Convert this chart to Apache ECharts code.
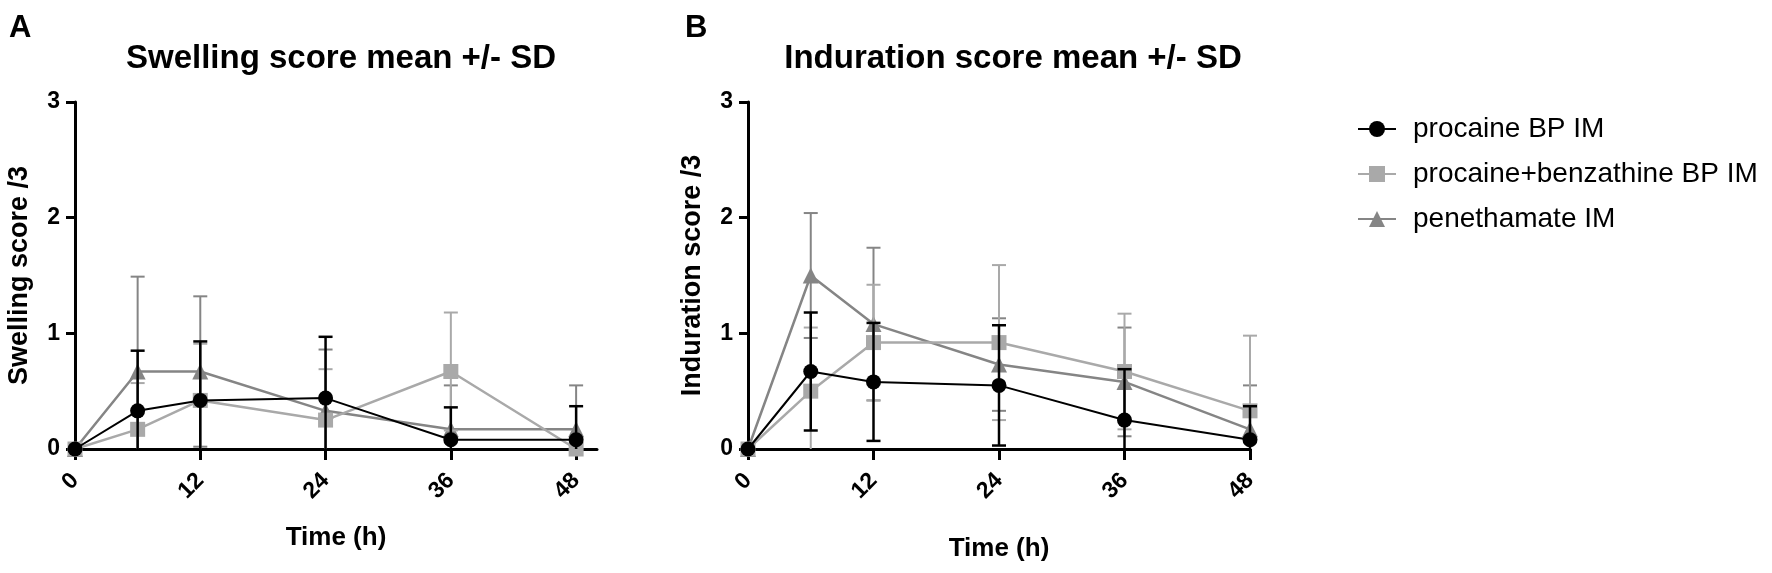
<!DOCTYPE html>
<html>
<head>
<meta charset="utf-8">
<script src="https://cdn.jsdelivr.net/npm/echarts@6/dist/echarts.min.js"></script>
<style>
  html, body { margin: 0; padding: 0; background: #fff; }
  #chart { width: 1772px; height: 573px; }
</style>
</head>
<body>
<div id="chart"></div>
<script>
// time points (h)
const hours = [0, 6, 12, 24, 36, 48];
const xTicks = [0, 12, 24, 36, 48];
const yTicks = [0, 1, 2, 3];
const groupNames = ['procaine BP IM', 'procaine+benzathine BP IM', 'penethamate IM'];

// A: swelling score, mean and SD
const swellProcMean = [0, 0.33, 0.42, 0.44, 0.08, 0.08];
const swellProcSd   = [0, 0.52, 0.51, 0.53, 0.28, 0.29];
const swellBenzMean = [0, 0.17, 0.42, 0.25, 0.67, 0];
const swellBenzSd   = [0, 0.40, 0.49, 0.44, 0.51, 0];
const swellPeneMean = [0, 0.67, 0.67, 0.33, 0.17, 0.17];
const swellPeneSd   = [0, 0.82, 0.65, 0.53, 0.38, 0.38];

// B: induration score, mean and SD
const indProcMean = [0, 0.67, 0.58, 0.55, 0.25, 0.08];
const indProcSd   = [0, 0.51, 0.51, 0.52, 0.44, 0.29];
const indBenzMean = [0, 0.50, 0.92, 0.92, 0.67, 0.33];
const indBenzSd   = [0, 0.55, 0.50, 0.67, 0.50, 0.65];
const indPeneMean = [0, 1.50, 1.08, 0.73, 0.58, 0.17];
const indPeneSd   = [0, 0.54, 0.66, 0.40, 0.47, 0.38];

const FONT = 'Liberation Sans, Arial, sans-serif';
const colors = ['#000000', '#a9a9a9', '#858585'];
const symbols = ['circle', 'rect', 'triangle'];
const symbolSizes = [15, 15, 16];

let myChart = echarts.init(document.getElementById('chart'));

function pairs(means) {
    return hours.map((h, i) => [h, means[i]]);
}

function triples(means, sds) {
    return hours.map((h, i) => [h, means[i], sds[i]]);
}

// vertical error bar with caps, cut off at the x axis like the original
function errorBar(color, width) {
    return function(params, api) {
        let sd = api.value(2);
        if (!sd) return null;
        let x = api.value(0);
        let mean = api.value(1);
        let hi = mean + sd;
        let lo = mean - sd;
        let top = api.coord([x, hi]);
        let bot = api.coord([x, Math.max(lo, 0)]);
        let cap = 7;
        let style = { stroke: color, lineWidth: width };
        let kids = [
            { type: 'line', shape: { x1: top[0], y1: top[1], x2: bot[0], y2: bot[1] }, style: style },
            { type: 'line', shape: { x1: top[0] - cap, y1: top[1], x2: top[0] + cap, y2: top[1] }, style: style }
        ];
        if (lo >= 0) {
            kids.push({ type: 'line', shape: { x1: bot[0] - cap, y1: bot[1], x2: bot[0] + cap, y2: bot[1] }, style: style });
        }
        return { type: 'group', children: kids };
    };
}

function panelSeries(gridIdx, means, sds) {
    let out = [];
    // penethamate first, procaine BP last (on top)
    for (let k = 2; k >= 0; k--) {
        out.push({
            type: 'custom',
            xAxisIndex: gridIdx,
            yAxisIndex: gridIdx,
            renderItem: errorBar(colors[k], k === 0 ? 2.5 : 2),
            data: triples(means[k], sds[k]),
            encode: { x: 0, y: 1 },
            z: 2 + (2 - k) * 2,
            silent: true,
            clip: false
        });
        out.push({
            name: groupNames[k],
            type: 'line',
            xAxisIndex: gridIdx,
            yAxisIndex: gridIdx,
            data: pairs(means[k]),
            symbol: symbols[k],
            symbolSize: symbolSizes[k],
            showAllSymbol: true,
            lineStyle: { color: colors[k], width: k === 0 ? 2 : 2.5 },
            itemStyle: { color: colors[k], opacity: 1 },
            z: 3 + (2 - k) * 2,
            animation: false
        });
    }
    return out;
}

function xAxisFor(gridIdx, maxVal, gap) {
    return {
        type: 'value',
        gridIndex: gridIdx,
        min: 0,
        max: maxVal,
        interval: 12,
        name: 'Time (h)',
        nameLocation: 'middle',
        nameGap: gap,
        nameTextStyle: { fontFamily: FONT, fontWeight: 'bold', fontSize: 26, color: '#000' },
        axisLine: { show: true, onZero: false, lineStyle: { color: '#000', width: 3 } },
        axisTick: { show: true, length: 11, customValues: xTicks, lineStyle: { color: '#000', width: 3 } },
        axisLabel: {
            rotate: 45, fontFamily: FONT, fontWeight: 'bold', fontSize: 23, color: '#000', margin: 28,
            customValues: xTicks
        },
        splitLine: { show: false }
    };
}

function yAxisFor(gridIdx, label) {
    return {
        type: 'value',
        gridIndex: gridIdx,
        min: 0,
        max: 3,
        interval: 1,
        name: label,
        nameLocation: 'middle',
        nameGap: 42,
        nameTextStyle: { fontFamily: FONT, fontWeight: 'bold', fontSize: 27, color: '#000' },
        axisLine: { show: true, lineStyle: { color: '#000', width: 3 } },
        axisTick: { show: true, length: 9, customValues: yTicks, lineStyle: { color: '#000', width: 3 } },
        axisLabel: {
            fontFamily: FONT, fontWeight: 'bold', fontSize: 23, color: '#000', margin: 15,
            customValues: yTicks
        },
        splitLine: { show: false }
    };
}

let option = {
    backgroundColor: '#fff',
    animation: false,
    title: [
        { text: 'A', left: 4, top: 8, textStyle: { fontFamily: FONT, fontWeight: 'bold', fontSize: 31, color: '#000' } },
        { text: 'B', left: 680, top: 8, textStyle: { fontFamily: FONT, fontWeight: 'bold', fontSize: 31, color: '#000' } },
        { text: 'Swelling score mean +/- SD', left: 336, top: 37, textAlign: 'center',
          textStyle: { fontFamily: FONT, fontWeight: 'bold', fontSize: 33, color: '#000' } },
        { text: 'Induration score mean +/- SD', left: 1008, top: 37, textAlign: 'center',
          textStyle: { fontFamily: FONT, fontWeight: 'bold', fontSize: 33, color: '#000' } }
    ],
    legend: {
        data: groupNames,
        orient: 'vertical',
        left: 1352,
        top: 110,
        itemWidth: 38,
        itemHeight: 20,
        itemGap: 17,
        textStyle: { fontFamily: FONT, fontSize: 28, color: '#000', padding: [0, 0, 0, 12] }
    },
    grid: [
        { left: 75, top: 102, width: 522, height: 347 },
        { left: 748, top: 102, width: 502, height: 347 }
    ],
    xAxis: [xAxisFor(0, 50, 76), xAxisFor(1, 48, 87)],
    yAxis: [yAxisFor(0, 'Swelling score /3'), yAxisFor(1, 'Induration score /3')],
    series: [].concat(
        panelSeries(0, [swellProcMean, swellBenzMean, swellPeneMean], [swellProcSd, swellBenzSd, swellPeneSd]),
        panelSeries(1, [indProcMean, indBenzMean, indPeneMean], [indProcSd, indBenzSd, indPeneSd])
    )
};

myChart.setOption(option);
</script>
</body>
</html>
